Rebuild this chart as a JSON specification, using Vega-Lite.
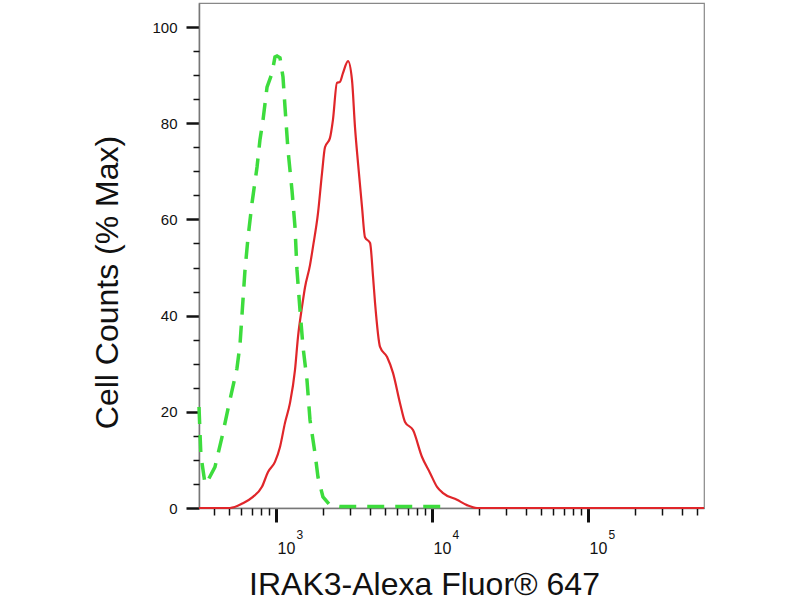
{
  "$schema": "https://vega.github.io/schema/vega-lite/v6.json",
  "width": 505,
  "height": 505,
  "autosize": {"type": "none"},
  "padding": {"left": 199, "top": 3, "right": 96, "bottom": 92},
  "background": "white",
  "config": {
    "view": {"stroke": "#888888", "strokeWidth": 1.2},
    "font": "Liberation Sans",
    "axis": {"grid": false, "labelFont": "Liberation Sans", "titleFont": "Liberation Sans", "labelColor": "#111111", "titleColor": "#111111", "titleFontWeight": "normal", "tickColor": "#111111", "domainColor": "#777777"}
  },
  "datasets": {
    "red": [
      {"intensity": 321, "pct": 0},
      {"intensity": 507, "pct": 0},
      {"intensity": 614, "pct": 1},
      {"intensity": 712, "pct": 2.3},
      {"intensity": 813, "pct": 4.4},
      {"intensity": 889, "pct": 7.5},
      {"intensity": 985, "pct": 9.6},
      {"intensity": 1061, "pct": 12.7},
      {"intensity": 1142, "pct": 17.7},
      {"intensity": 1229, "pct": 21.8},
      {"intensity": 1324, "pct": 28.7},
      {"intensity": 1384, "pct": 35.6},
      {"intensity": 1468, "pct": 41.8},
      {"intensity": 1535, "pct": 45.9},
      {"intensity": 1652, "pct": 50.5},
      {"intensity": 1726, "pct": 54.3},
      {"intensity": 1859, "pct": 61.3},
      {"intensity": 1972, "pct": 69.6},
      {"intensity": 2061, "pct": 75},
      {"intensity": 2217, "pct": 76.9},
      {"intensity": 2318, "pct": 80.7},
      {"intensity": 2459, "pct": 88.4},
      {"intensity": 2571, "pct": 88.6},
      {"intensity": 2687, "pct": 90.4},
      {"intensity": 2896, "pct": 92.9},
      {"intensity": 3070, "pct": 89},
      {"intensity": 3209, "pct": 79.2},
      {"intensity": 3356, "pct": 71.7},
      {"intensity": 3559, "pct": 62.6},
      {"intensity": 3720, "pct": 56.3},
      {"intensity": 4009, "pct": 55.1},
      {"intensity": 4191, "pct": 48},
      {"intensity": 4316, "pct": 42.6},
      {"intensity": 4645, "pct": 33.5},
      {"intensity": 5154, "pct": 31.4},
      {"intensity": 5623, "pct": 28.1},
      {"intensity": 6237, "pct": 21.8},
      {"intensity": 6715, "pct": 17.9},
      {"intensity": 7557, "pct": 16.2},
      {"intensity": 8630, "pct": 10.6},
      {"intensity": 9713, "pct": 7.3},
      {"intensity": 10770, "pct": 4.4},
      {"intensity": 11770, "pct": 3.1},
      {"intensity": 14460, "pct": 1.7},
      {"intensity": 16760, "pct": 0.6},
      {"intensity": 19420, "pct": 0},
      {"intensity": 554000, "pct": 0}
    ],
    "green": [
      {"intensity": 321, "pct": 21},
      {"intensity": 330, "pct": 11},
      {"intensity": 351, "pct": 5},
      {"intensity": 367, "pct": 5.8},
      {"intensity": 406, "pct": 8.5},
      {"intensity": 451, "pct": 14.8},
      {"intensity": 507, "pct": 22.5},
      {"intensity": 562, "pct": 29},
      {"intensity": 588, "pct": 34},
      {"intensity": 632, "pct": 49.2},
      {"intensity": 662, "pct": 56.3},
      {"intensity": 702, "pct": 63.4},
      {"intensity": 756, "pct": 70.9},
      {"intensity": 789, "pct": 76.5},
      {"intensity": 826, "pct": 80.7},
      {"intensity": 876, "pct": 87.5},
      {"intensity": 943, "pct": 90.4},
      {"intensity": 985, "pct": 93.8},
      {"intensity": 1015, "pct": 94},
      {"intensity": 1061, "pct": 93.6},
      {"intensity": 1109, "pct": 89.6},
      {"intensity": 1142, "pct": 83.4},
      {"intensity": 1194, "pct": 74.4},
      {"intensity": 1266, "pct": 66.1},
      {"intensity": 1324, "pct": 58.4},
      {"intensity": 1363, "pct": 49.5},
      {"intensity": 1425, "pct": 41.2},
      {"intensity": 1490, "pct": 33.5},
      {"intensity": 1580, "pct": 26.6},
      {"intensity": 1652, "pct": 18.3},
      {"intensity": 1778, "pct": 11.4},
      {"intensity": 1859, "pct": 6.4},
      {"intensity": 2000, "pct": 2.3},
      {"intensity": 2217, "pct": 0.6},
      {"intensity": 2571, "pct": 0.3},
      {"intensity": 12670, "pct": 0.3}
    ]
  },
  "layer": [
    {
      "data": {"name": "red"},
      "mark": {"type": "line", "color": "#e0262a", "strokeWidth": 2.2, "interpolate": "monotone"},
      "encoding": {
        "x": {
          "field": "intensity", "type": "quantitative",
          "scale": {"type": "log", "domain": [321, 554000], "nice": false, "zero": false},
          "axis": {
            "orient": "bottom",
            "values": [1000, 10000, 100000],
            "labelExpr": "'10'",
            "labelFontSize": 16,
            "labelAlign": "left",
            "labelOffset": 1,
            "labelBaseline": "alphabetic",
            "labelPadding": 31,
            "tickSize": 14,
            "tickWidth": 3,
            "domainWidth": 1.5,
            "title": "IRAK3-Alexa Fluor® 647",
            "titleFontSize": 32,
            "titleX": 225,
            "titleY": 86,
            "titleAlign": "center",
            "titleBaseline": "alphabetic"
          }
        },
        "y": {
          "field": "pct", "type": "quantitative",
          "scale": {"domain": [0, 105], "nice": false},
          "axis": {
            "orient": "left",
            "values": [0, 20, 40, 60, 80, 100],
            "labelFontSize": 15,
            "labelPadding": 9,
            "tickSize": 13,
            "tickWidth": 2.5,
            "domainWidth": 1.5,
            "title": "Cell Counts (% Max)",
            "titleFontSize": 32,
            "titleX": -82,
            "titleY": 279,
            "titleAngle": 270,
            "titleAlign": "center",
            "titleBaseline": "alphabetic"
          }
        }
      }
    },
    {
      "data": {"name": "green"},
      "mark": {"type": "line", "color": "#3ddc3d", "strokeWidth": 3.5, "strokeDash": [17, 11]},
      "encoding": {
        "x": {
          "field": "intensity", "type": "quantitative",
          "scale": {"type": "log", "domain": [321, 554000], "nice": false, "zero": false},
          "axis": {
            "orient": "bottom",
            "values": [400, 500, 600, 700, 800, 900, 2000, 3000, 4000, 5000, 6000, 7000, 8000, 9000, 20000, 30000, 40000, 50000, 60000, 70000, 80000, 90000, 200000, 300000, 400000, 500000],
            "labels": false,
            "domain": false,
            "tickSize": 7,
            "tickWidth": 1.5,
            "title": null
          }
        },
        "y": {
          "field": "pct", "type": "quantitative",
          "scale": {"domain": [0, 105], "nice": false},
          "axis": {
            "orient": "left",
            "values": [5, 10, 15, 25, 30, 35, 45, 50, 55, 65, 70, 75, 85, 90, 95],
            "labels": false,
            "domain": false,
            "tickSize": 6,
            "tickWidth": 1.5,
            "title": null
          }
        }
      }
    },
    {
      "data": {"name": "red"},
      "mark": {"type": "line", "opacity": 0},
      "encoding": {
        "x": {
          "field": "intensity", "type": "quantitative",
          "scale": {"type": "log", "domain": [321, 554000], "nice": false, "zero": false},
          "axis": {
            "orient": "bottom",
            "values": [1000, 10000, 100000],
            "labelExpr": "datum.value == 1000 ? '3' : datum.value == 10000 ? '4' : '5'",
            "labelFontSize": 12,
            "labelAlign": "left",
            "labelOffset": 20,
            "labelBaseline": "alphabetic",
            "ticks": false,
            "tickSize": 0,
            "labelPadding": 30,
            "domain": false,
            "title": null
          }
        },
        "y": {
          "field": "pct", "type": "quantitative",
          "scale": {"domain": [0, 105], "nice": false},
          "axis": null
        }
      }
    }
  ],
  "resolve": {"axis": {"x": "independent", "y": "independent"}}
}
